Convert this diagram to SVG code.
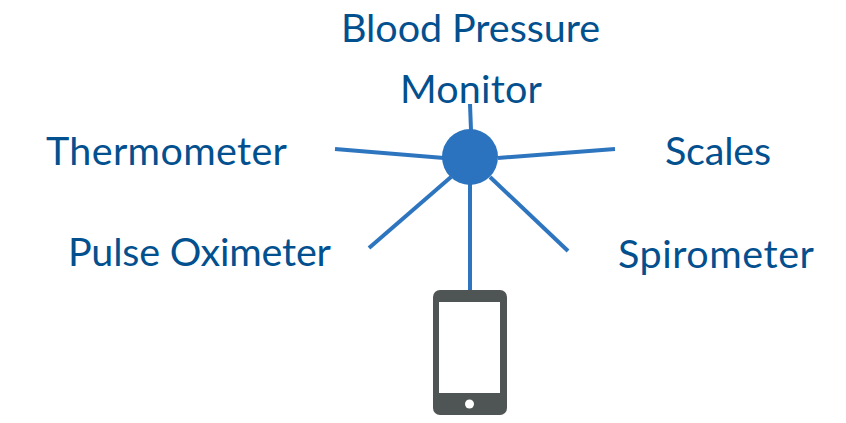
<svg xmlns="http://www.w3.org/2000/svg" width="846" height="423" viewBox="0 0 846 423">
<style>
.l{font-family:"Lato","Noto Sans",sans-serif;font-size:39.500px;fill:#03508f;text-anchor:middle}
.c{stroke:#2e75bf;stroke-width:4;fill:none}
</style>
<rect width="846" height="423" fill="#fff"/>
<g id="connectors">
<line class="c" x1="470" y1="104" x2="471" y2="130"/>
<line class="c" x1="335" y1="149" x2="444" y2="158"/>
<line class="c" x1="498" y1="158" x2="615" y2="149"/>
<line class="c" x1="369" y1="248" x2="451" y2="177"/>
<line class="c" x1="568" y1="251" x2="490" y2="177"/>
<line class="c" x1="470" y1="184" x2="470" y2="291"/>
</g>
<g id="hub"><circle cx="470" cy="157" r="28" fill="#2b73be"/></g>
<g id="blood-pressure-monitor"><text class="l" x="470.500" y="42" textLength="259">Blood Pressure</text><text class="l" x="471" y="103" textLength="142">Monitor</text></g>
<g id="thermometer"><text class="l" x="166.500" y="165" textLength="241">Thermometer</text></g>
<g id="scales"><text class="l" x="718" y="165" textLength="106">Scales</text></g>
<g id="pulse-oximeter"><text class="l" x="199.500" y="266" textLength="263">Pulse Oximeter</text></g>
<g id="spirometer"><text class="l" x="716" y="267.500" textLength="196">Spirometer</text></g>
<g id="phone">
<rect x="433" y="290" width="74" height="125" rx="7" fill="#4f5454"/>
<rect x="439" y="302" width="61" height="91" fill="#fff"/>
<circle cx="469.500" cy="404" r="4.500" fill="#fff"/>
</g>
</svg>
